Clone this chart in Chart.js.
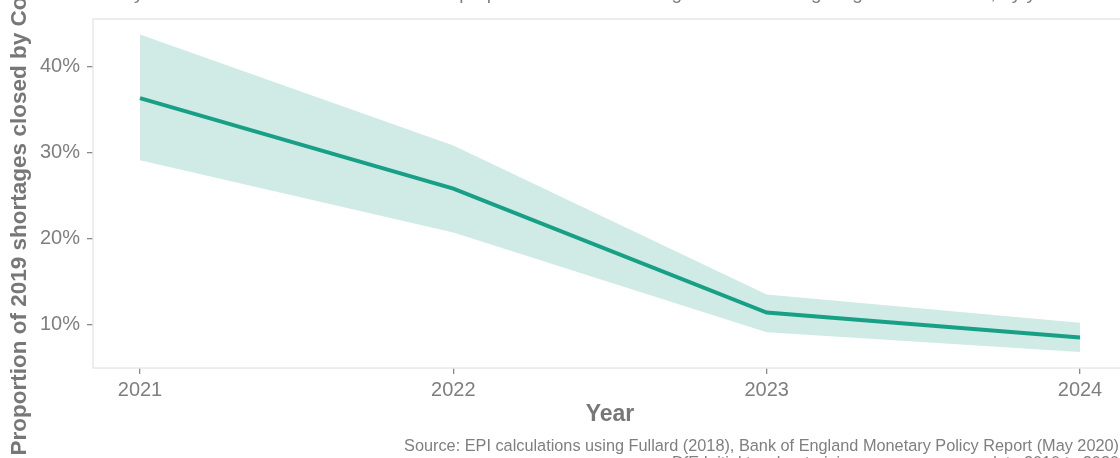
<!DOCTYPE html>
<html>
<head>
<meta charset="utf-8">
<script src="https://cdn.jsdelivr.net/npm/chart.js@4.4.1/dist/chart.umd.min.js"></script>
<style>
  html, body { margin: 0; padding: 0; background: #fff; overflow: hidden; width: 1120px; height: 458px; }
  #wrap { position: absolute; left: 0; top: 0; width: 1160px; height: 458px; }
</style>
</head>
<body>
<div id="wrap"><canvas id="chart-closure" width="1160" height="458"></canvas></div>
<script>
/* proportion of 2019 shortages closed, central estimate with range */
const years   = [2021, 2022, 2023, 2024];
const central = [36.3, 25.8, 11.4, 8.5];
const lower   = [29.1, 20.7, 9.1, 6.8];
const upper   = [43.7, 30.8, 13.5, 10.2];
const yTicks  = [10, 20, 30, 40];

const titleText = 'Analysis of recession scenarios: estimated proportion of 2019 shortages closed through higher recruitment, by year';
const captionLines = [
  'Source: EPI calculations using Fullard (2018), Bank of England Monetary Policy Report (May 2020)',
  'DfE Initial teacher training census, vacancy data 2010 to 2020'
];

const FONT = '"Liberation Sans", Arial, sans-serif';
const GREY = '#7f7f7f';

const panelBorder = {
  id: 'panelBorder',
  beforeDatasetsDraw(chart) {
    const { ctx, chartArea: a } = chart;
    ctx.save();
    ctx.strokeStyle = '#e8e8e8';
    ctx.lineWidth = 1.5;
    ctx.strokeRect(a.left, a.top, a.right - a.left, a.bottom - a.top);
    ctx.restore();
  }
};

const extraText = {
  id: 'extraText',
  afterDraw(chart) {
    const ctx = chart.ctx;
    ctx.save();
    ctx.fillStyle = GREY;
    ctx.textBaseline = 'alphabetic';
    ctx.font = '19px ' + FONT;
    ctx.textAlign = 'left';
    ctx.fillText(titleText, 96, -1);
    ctx.font = '16.3px ' + FONT;
    ctx.textAlign = 'right';
    captionLines.forEach((l, i) => ctx.fillText(l, 1119, 451 + i * 17));
    ctx.restore();
  }
};

const pts = arr => years.map((x, i) => ({ x, y: arr[i] }));

new Chart(document.getElementById('chart-closure'), {
  type: 'line',
  data: {
    datasets: [
      { data: pts(central), borderColor: '#17a086', borderWidth: 4, pointRadius: 0, fill: false, tension: 0 },
      { data: pts(lower), borderWidth: 0, borderColor: 'rgba(0,0,0,0)', pointRadius: 0, fill: false },
      { data: pts(upper), borderWidth: 0, borderColor: 'rgba(0,0,0,0)', pointRadius: 0, fill: '-1', backgroundColor: '#d0ebe6' }
    ]
  },
  options: {
    responsive: false, animation: false,
    layout: { padding: { top: 16, left: 0, right: 33, bottom: 0 } },
    plugins: { legend: { display: false }, tooltip: { enabled: false } },
    scales: {
      x: {
        type: 'linear', min: 2020.85, max: 2024.15,
        afterBuildTicks: s => { s.ticks = years.map(v => ({ value: v })); },
        afterFit: s => { s.height = 90; },
        border: { display: false },
        grid: { display: true, drawOnChartArea: false, drawTicks: true, tickLength: 6, tickColor: '#8a8a8a', lineWidth: 1.3 },
        ticks: { color: GREY, font: { family: FONT, size: 20 }, padding: 4, maxRotation: 0, autoSkip: false, callback: v => String(v) },
        title: { display: true, text: 'Year', color: '#777', font: { family: FONT, size: 23, weight: 'bold' }, padding: { top: 0, bottom: 30 } }
      },
      y: {
        type: 'linear', min: 4.95, max: 45.5,
        afterBuildTicks: s => { s.ticks = yTicks.map(v => ({ value: v })); },
        afterFit: s => { s.width = 93; },
        border: { display: false },
        grid: { display: true, drawOnChartArea: false, drawTicks: true, tickLength: 6, tickColor: '#8a8a8a', lineWidth: 1.3 },
        ticks: { color: GREY, font: { family: FONT, size: 20 }, padding: 7, callback: v => v + '%' },
        title: { display: true, text: 'Proportion of 2019 shortages closed by Covid-19', color: '#777', font: { family: FONT, size: 22.5, weight: 'bold' }, padding: { top: 6, bottom: 0 } }
      }
    }
  },
  plugins: [panelBorder, extraText]
});
</script>
</body>
</html>
